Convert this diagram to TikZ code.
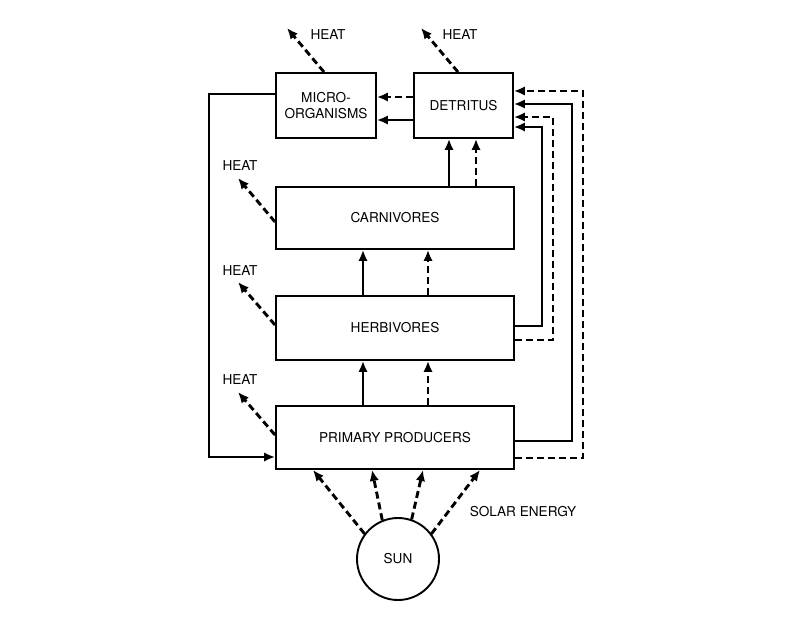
\documentclass[tikz,border=0pt]{standalone}
\usepackage{fontspec}
\setmainfont{TeX Gyre Heros}
\usetikzlibrary{arrows.meta}
\begin{document}
\begin{tikzpicture}[x=1pt,y=-1pt,
  every node/.style={font=\fontsize{13.6}{15.5}\selectfont},
  box/.style={draw,line width=1.9pt,rectangle,inner sep=0pt,align=center},
  flow/.style={line width=2.9pt,-{Latex[length=11pt,width=9.5pt]}},
  dflow/.style={flow,dash pattern=on 7pt off 4pt},
  lbl/.style={inner sep=0pt}]
\useasboundingbox (0,0) rectangle (800,635);
% boxes
\node[box,minimum width=100pt,minimum height=65pt] (micro) at (326,105.5) {MICRO-\\ORGANISMS};
\node[box,minimum width=99pt,minimum height=65pt] (det) at (463.5,105.5) {DETRITUS};
\node[box,minimum width=238pt,minimum height=62pt] (carn) at (395,218) {CARNIVORES};
\node[box,minimum width=238pt,minimum height=64pt] (herb) at (395,328) {HERBIVORES};
\node[box,minimum width=238pt,minimum height=63pt] (prim) at (395,437.5) {PRIMARY PRODUCERS};
\node[draw,circle,line width=1.9pt,minimum size=82pt,inner sep=0pt] (sun) at (398,559) {SUN};
% labels
\node[lbl] (h1) at (328,35) {HEAT};
\node[lbl] (h2) at (460,35) {HEAT};
\node[lbl] (h3) at (240,166) {HEAT};
\node[lbl] (h4) at (240,271) {HEAT};
\node[lbl] (h5) at (240,380) {HEAT};
\node[lbl] (solar) at (523,512) {SOLAR ENERGY};
% heat coordinates
\coordinate (t1) at (287,28);
\coordinate (t2) at (421,28);
\coordinate (t3) at (238,178);
\coordinate (t4) at (238,282);
\coordinate (t5) at (238,392);
\draw[dflow] (micro.north -| 324,0) -- (t1);
\draw[dflow] (det.north -| 458,0) -- (t2);
\draw[dflow] (carn.west |- 0,222) -- (t3);
\draw[dflow] (herb.west |- 0,325) -- (t4);
\draw[dflow] (prim.west |- 0,435) -- (t5);
% detritus -> micro
\draw[dflow] (det.west |- 0,97) -- (micro.east |- 0,97);
\draw[flow] (det.west |- 0,120) -- (micro.east |- 0,120);
% up arrows
\draw[flow] (carn.north -| 449,0) -- (det.south -| 449,0);
\draw[dflow] (carn.north -| 476,0) -- (det.south -| 476,0);
\draw[flow] (herb.north -| 363,0) -- (carn.south -| 363,0);
\draw[dflow] (herb.north -| 428,0) -- (carn.south -| 428,0);
\draw[flow] (prim.north -| 363,0) -- (herb.south -| 363,0);
\draw[dflow] (prim.north -| 428,0) -- (herb.south -| 428,0);
% right loops to detritus
\draw[flow] (herb.east |- 0,326) -- (542,326) -- (542,127) -- (det.east |- 0,127);
\draw[dflow] (herb.east |- 0,340) -- (553,340) -- (553,117) -- (det.east |- 0,117);
\draw[flow] (prim.east |- 0,441) -- (572,441) -- (572,104) -- (det.east |- 0,104);
\draw[dflow] (prim.east |- 0,458) -- (583,458) -- (583,91) -- (det.east |- 0,91);
% left loop micro -> primary
\draw[flow] (micro.west |- 0,94) -- (209,94) -- (209,457) -- (prim.west |- 0,457);
% solar
\draw[dflow] (sun.143) -- (prim.south -| 313,0);
\draw[dflow] (sun.112) -- (prim.south -| 372,0);
\draw[dflow] (sun.71) -- (prim.south -| 423,0);
\draw[dflow] (sun.37) -- (prim.south -| 480,0);
\end{tikzpicture}
\end{document}
